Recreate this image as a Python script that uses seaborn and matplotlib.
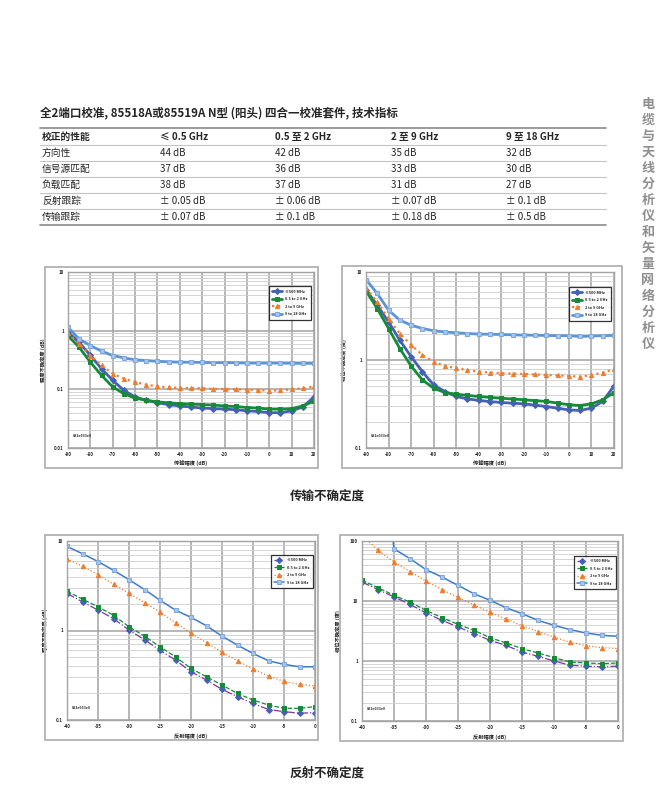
import numpy as np
import pandas as pd
import matplotlib
matplotlib.use('Agg')
import matplotlib.pyplot as plt
import seaborn as sns
from matplotlib.patches import Rectangle
from matplotlib.lines import Line2D
from matplotlib.ticker import LogLocator, NullFormatter

sns.set_style('white')
plt.rcParams['font.family'] = ['Noto Sans CJK SC', 'DejaVu Sans']
plt.rcParams['axes.unicode_minus'] = False

# ---- table data ----
title = '全2端口校准, 85518A或85519A N型 (阳头) 四合一校准套件, 技术指标'
table_header = ['校正的性能', '≤ 0.5 GHz', '0.5 至 2 GHz', '2 至 9 GHz', '9 至 18 GHz']
table_rows = [
    ['方向性', '44 dB', '42 dB', '35 dB', '32 dB'],
    ['信号源匹配', '37 dB', '36 dB', '33 dB', '30 dB'],
    ['负载匹配', '38 dB', '37 dB', '31 dB', '27 dB'],
    ['反射跟踪', '± 0.05 dB', '± 0.06 dB', '± 0.07 dB', '± 0.1 dB'],
    ['传输跟踪', '± 0.07 dB', '± 0.1 dB', '± 0.18 dB', '± 0.5 dB'],
]
side_title = '电缆与天线分析仪和矢量网络分析仪'
caption_trans = '传输不确定度'
caption_refl = '反射不确定度'
series_names = ['≤500 MHz', '0.5 to 2 GHz', '2 to 9 GHz', '9 to 18 GHz']
fig_id = '831e033e0'

# ---- transmission uncertainty (x = transmission magnitude, dB) ----
trans_x = [-90, -85, -80, -75, -70, -65, -60, -55, -50, -45, -40, -35,
           -30, -25, -20, -15, -10, -5, 0, 5, 10, 15, 20]
trans_mag_500m = [0.94, 0.63, 0.38, 0.224, 0.142, 0.096, 0.074, 0.065, 0.059, 0.055, 0.052, 0.050,
                  0.048, 0.047, 0.046, 0.045, 0.043, 0.042, 0.040, 0.040, 0.043, 0.050, 0.074]
trans_mag_2g = [0.82, 0.52, 0.29, 0.173, 0.110, 0.084, 0.071, 0.065, 0.061, 0.059, 0.057, 0.056,
                0.055, 0.054, 0.052, 0.051, 0.049, 0.048, 0.046, 0.046, 0.047, 0.052, 0.063]
trans_mag_9g = [0.90, 0.59, 0.377, 0.255, 0.185, 0.152, 0.133, 0.12, 0.112, 0.108, 0.106, 0.105,
                0.104, 0.102, 0.101, 0.100, 0.099, 0.097, 0.095, 0.096, 0.100, 0.104, 0.112]
trans_mag_18g = [1.14, 0.72, 0.557, 0.447, 0.377, 0.344, 0.318, 0.31, 0.30, 0.295, 0.29, 0.29,
                 0.287, 0.285, 0.285, 0.284, 0.28, 0.28, 0.28, 0.28, 0.278, 0.278, 0.277]

trans_ph_500m = [6.3, 4.2, 2.71, 1.68, 1.09, 0.738, 0.52, 0.438, 0.385, 0.362, 0.347, 0.337,
                 0.329, 0.323, 0.318, 0.307, 0.296, 0.283, 0.271, 0.267, 0.284, 0.338, 0.508]
trans_ph_2g = [6.1, 3.84, 2.28, 1.35, 0.855, 0.594, 0.478, 0.427, 0.409, 0.396, 0.385, 0.376,
               0.368, 0.36, 0.353, 0.345, 0.338, 0.324, 0.31, 0.304, 0.318, 0.353, 0.427]
trans_ph_9g = [6.5, 4.57, 2.96, 2.0, 1.48, 1.14, 0.957, 0.855, 0.805, 0.77, 0.738, 0.72,
               0.707, 0.70, 0.694, 0.685, 0.676, 0.668, 0.659, 0.645, 0.676, 0.72, 0.784]
trans_ph_18g = [8.2, 5.7, 3.68, 2.84, 2.49, 2.28, 2.15, 2.08, 2.04, 2.0, 1.97, 1.96,
                1.95, 1.93, 1.92, 1.91, 1.90, 1.89, 1.89, 1.85, 1.87, 1.89, 1.90]

# ---- reflection uncertainty (x = reflection magnitude, dB) ----
refl_x = [-40, -37.5, -35, -32.5, -30, -27.5, -25, -22.5, -20,
          -17.5, -15, -12.5, -10, -7.5, -5, -2.5, 0]
refl_mag_500m = [2.59, 2.09, 1.69, 1.36, 1.01, 0.79, 0.60, 0.467, 0.346,
                 0.279, 0.22, 0.182, 0.153, 0.131, 0.124, 0.119, 0.121]
refl_mag_2g = [2.75, 2.24, 1.84, 1.48, 1.10, 0.865, 0.657, 0.508, 0.377,
               0.304, 0.246, 0.198, 0.167, 0.147, 0.135, 0.135, 0.141]
refl_mag_9g = [6.35, 5.2, 4.2, 3.3, 2.6, 2.05, 1.6, 1.22, 0.93,
               0.73, 0.57, 0.46, 0.37, 0.31, 0.27, 0.25, 0.24]
refl_mag_18g = [8.7, 7.2, 5.9, 4.7, 3.7, 2.87, 2.18, 1.69, 1.40,
                1.13, 0.865, 0.686, 0.554, 0.459, 0.418, 0.393, 0.393]

refl_ph_500m = [20.7, 15.5, 11.7, 8.8, 6.3, 4.76, 3.69, 2.86, 2.21,
                1.82, 1.41, 1.2, 1.0, 0.85, 0.82, 0.80, 0.82]
refl_ph_2g = [22.1, 16.7, 12.4, 9.6, 6.98, 5.27, 4.08, 3.24, 2.45,
              2.0, 1.61, 1.36, 1.14, 0.96, 0.93, 0.90, 0.93]
refl_ph_9g = [125, 69.9, 44.7, 31.0, 21.5, 15.5, 11.5, 8.6, 6.5,
              5.0, 3.9, 3.1, 2.5, 2.05, 1.8, 1.67, 1.61]
refl_ph_18g_x = [-35.5, -35, -32.5, -30, -27.5, -25, -22.5, -20,
                 -17.5, -15, -12.5, -10, -7.5, -5, -2.5, 0]
refl_ph_18g = [200, 74, 50.8, 33.3, 25.1, 18.2, 13.2, 10.3,
               7.74, 6.15, 4.76, 3.93, 3.33, 2.93, 2.68, 2.58]

W, H = 670, 790


def fx(px):
    return px / W


def fy(py):
    return 1 - py / H


# line styles for the two chart rows
top_styles = [
    dict(color='#4660b4', marker='D', markersize=3.0, linewidth=2.0, linestyle='-',
         markerfacecolor='#4660b4', markeredgecolor='#4660b4'),
    dict(color='#178a3a', marker='s', markersize=2.8, linewidth=2.0, linestyle='-',
         markerfacecolor='#178a3a', markeredgecolor='#178a3a'),
    dict(color='#ee7d2e', marker='^', markersize=3.0, linewidth=1.6, linestyle=':',
         markerfacecolor='#ee7d2e', markeredgecolor='#ee7d2e'),
    dict(color='#5b95d6', marker='s', markersize=3.4, linewidth=2.0, linestyle='-',
         markerfacecolor='#a9c6ea', markeredgecolor='#7fa9de'),
]
bottom_styles = [
    dict(color='#7a3a9e', marker='D', markersize=3.0, linewidth=0.9, linestyle='-.',
         markerfacecolor='#4660b4', markeredgecolor='#4660b4'),
    dict(color='#178a3a', marker='s', markersize=3.0, linewidth=0.9, linestyle='--',
         markerfacecolor='#178a3a', markeredgecolor='#178a3a'),
    dict(color='#ee7d2e', marker='^', markersize=3.2, linewidth=0.9, linestyle=':',
         markerfacecolor='#ee7d2e', markeredgecolor='#ee7d2e'),
    dict(color='#3d7cc9', marker='s', markersize=3.4, linewidth=1.1, linestyle='-',
         markerfacecolor='#a9c6ea', markeredgecolor='#7fa9de'),
]


def draw_panel(fig, box, frame, xs, ys, styles, xlim, xticks, ylim, yticks, xlabel, ylabel, leg_anchor):
    x0, y0, x1, y1 = box
    ax = fig.add_axes([fx(x0), fy(y1), fx(x1) - fx(x0), fy(y0) - fy(y1)])
    for x, y, name, st in zip(xs, ys, series_names, styles):
        df = pd.DataFrame({'x': x, 'y': y})
        sns.lineplot(data=df, x='x', y='y', ax=ax, label=name, estimator=None, **st)
    ax.set_yscale('log')
    ax.set_xlim(*xlim)
    ax.set_ylim(*ylim)
    ax.yaxis.set_minor_locator(LogLocator(base=10, subs=range(2, 10)))
    ax.yaxis.set_minor_formatter(NullFormatter())
    ax.set_xticks(xticks)
    ax.set_xticklabels([str(t) for t in xticks], fontsize=3.2, fontweight='bold')
    ax.set_yticks(yticks)
    ax.set_yticklabels([f'{t:g}' for t in yticks], fontsize=3.2, fontweight='bold')
    ax.tick_params(which='both', length=0, pad=3)
    ax.grid(which='major', axis='both', color='#a3a3a3', linewidth=1.1)
    ax.grid(which='minor', axis='y', color='#cfcfcf', linewidth=0.6)
    for s in ax.spines.values():
        s.set_color('#a3a3a3')
        s.set_linewidth(1.0)
    ax.set_xlabel(xlabel, fontsize=3.8, fontweight='bold', labelpad=3)
    ax.set_ylabel(ylabel, fontsize=3.8, fontweight='bold', labelpad=6)
    leg = ax.legend(loc='upper right', bbox_to_anchor=leg_anchor, fontsize=2.8, frameon=True,
                    fancybox=False, edgecolor='black', handlelength=2.6, borderpad=0.9,
                    labelspacing=0.9, handletextpad=0.6)
    leg.get_frame().set_linewidth(0.9)
    for t in leg.get_texts():
        t.set_fontweight('bold')
    ax.text(0.02, 0.06, fig_id, transform=ax.transAxes, fontsize=2.6, fontweight='bold')
    fx0, fy0, fx1, fy1 = frame
    fig.patches.append(Rectangle((fx(fx0), fy(fy1)), fx(fx1) - fx(fx0), fy(fy0) - fy(fy1),
                                 transform=fig.transFigure, fill=False,
                                 edgecolor='#b8b8b8', linewidth=1.4))
    return ax


fig = plt.figure(figsize=(6.7, 7.9), dpi=100)

# title and table
fig.text(fx(40), fy(113), title, fontsize=8.3, fontweight='bold', va='center', ha='left')
col_x = [42, 160, 275, 391, 506]
row_y = [137, 153, 169, 185, 201, 217]
line_y = [128, 145, 161, 177, 193, 209, 225]
for i, ly in enumerate(line_y):
    dark = i in (0, len(line_y) - 1)
    fig.add_artist(Line2D([fx(40), fx(606)], [fy(ly), fy(ly)], transform=fig.transFigure,
                          color='#8a8a8a' if dark else '#c4c4c4', linewidth=1.2 if dark else 0.8))
for cx, txt in zip(col_x, table_header):
    fig.text(fx(cx), fy(row_y[0]), txt, fontsize=7, fontweight='bold', va='center', ha='left')
for ry, row in zip(row_y[1:], table_rows):
    for cx, txt in zip(col_x, row):
        fig.text(fx(cx), fy(ry), txt, fontsize=7, va='center', ha='left')

# vertical side title
fig.text(fx(648), fy(224), '\n'.join(side_title), fontsize=9.4, fontweight='bold',
         color='#8f8f8f', ha='center', va='center', linespacing=1.18)

# transmission charts
draw_panel(fig, (68, 272, 314, 448), (45, 267, 318, 468),
           [trans_x] * 4, [trans_mag_500m, trans_mag_2g, trans_mag_9g, trans_mag_18g],
           top_styles, (-90, 20), list(range(-90, 21, 10)), (0.01, 10), [0.01, 0.1, 1, 10],
           '传输幅度 (dB)', '幅度不确定度 (dB)', (0.995, 0.93))
draw_panel(fig, (366, 272, 614, 448), (342, 266, 622, 468),
           [trans_x] * 4, [trans_ph_500m, trans_ph_2g, trans_ph_9g, trans_ph_18g],
           top_styles, (-90, 20), list(range(-90, 21, 10)), (0.1, 10), [0.1, 1, 10],
           '传输幅度 (dB)', '相位不确定度 (度)', (0.995, 0.925))
fig.text(fx(327), fy(497), caption_trans, fontsize=9, fontweight='bold', ha='center', va='center')

# reflection charts
draw_panel(fig, (67, 541, 315, 720), (45, 535, 318, 740),
           [refl_x] * 4, [refl_mag_500m, refl_mag_2g, refl_mag_9g, refl_mag_18g],
           bottom_styles, (-40, 0), list(range(-40, 1, 5)), (0.1, 10), [0.1, 1, 10],
           '反射幅度 (dB)', '幅度不确定度 (dB)', (0.998, 0.935))
draw_panel(fig, (362, 541, 618, 721), (340, 535, 623, 741),
           [refl_x, refl_x, refl_x, refl_ph_18g_x],
           [refl_ph_500m, refl_ph_2g, refl_ph_9g, refl_ph_18g],
           bottom_styles, (-40, 0), list(range(-40, 1, 5)), (0.1, 100), [0.1, 1, 10, 100],
           '反射幅度 (dB)', '相位不确定度 (度)', (0.998, 0.93))
fig.text(fx(327), fy(773), caption_refl, fontsize=9, fontweight='bold', ha='center', va='center')

fig.savefig('out.png', dpi=100)
